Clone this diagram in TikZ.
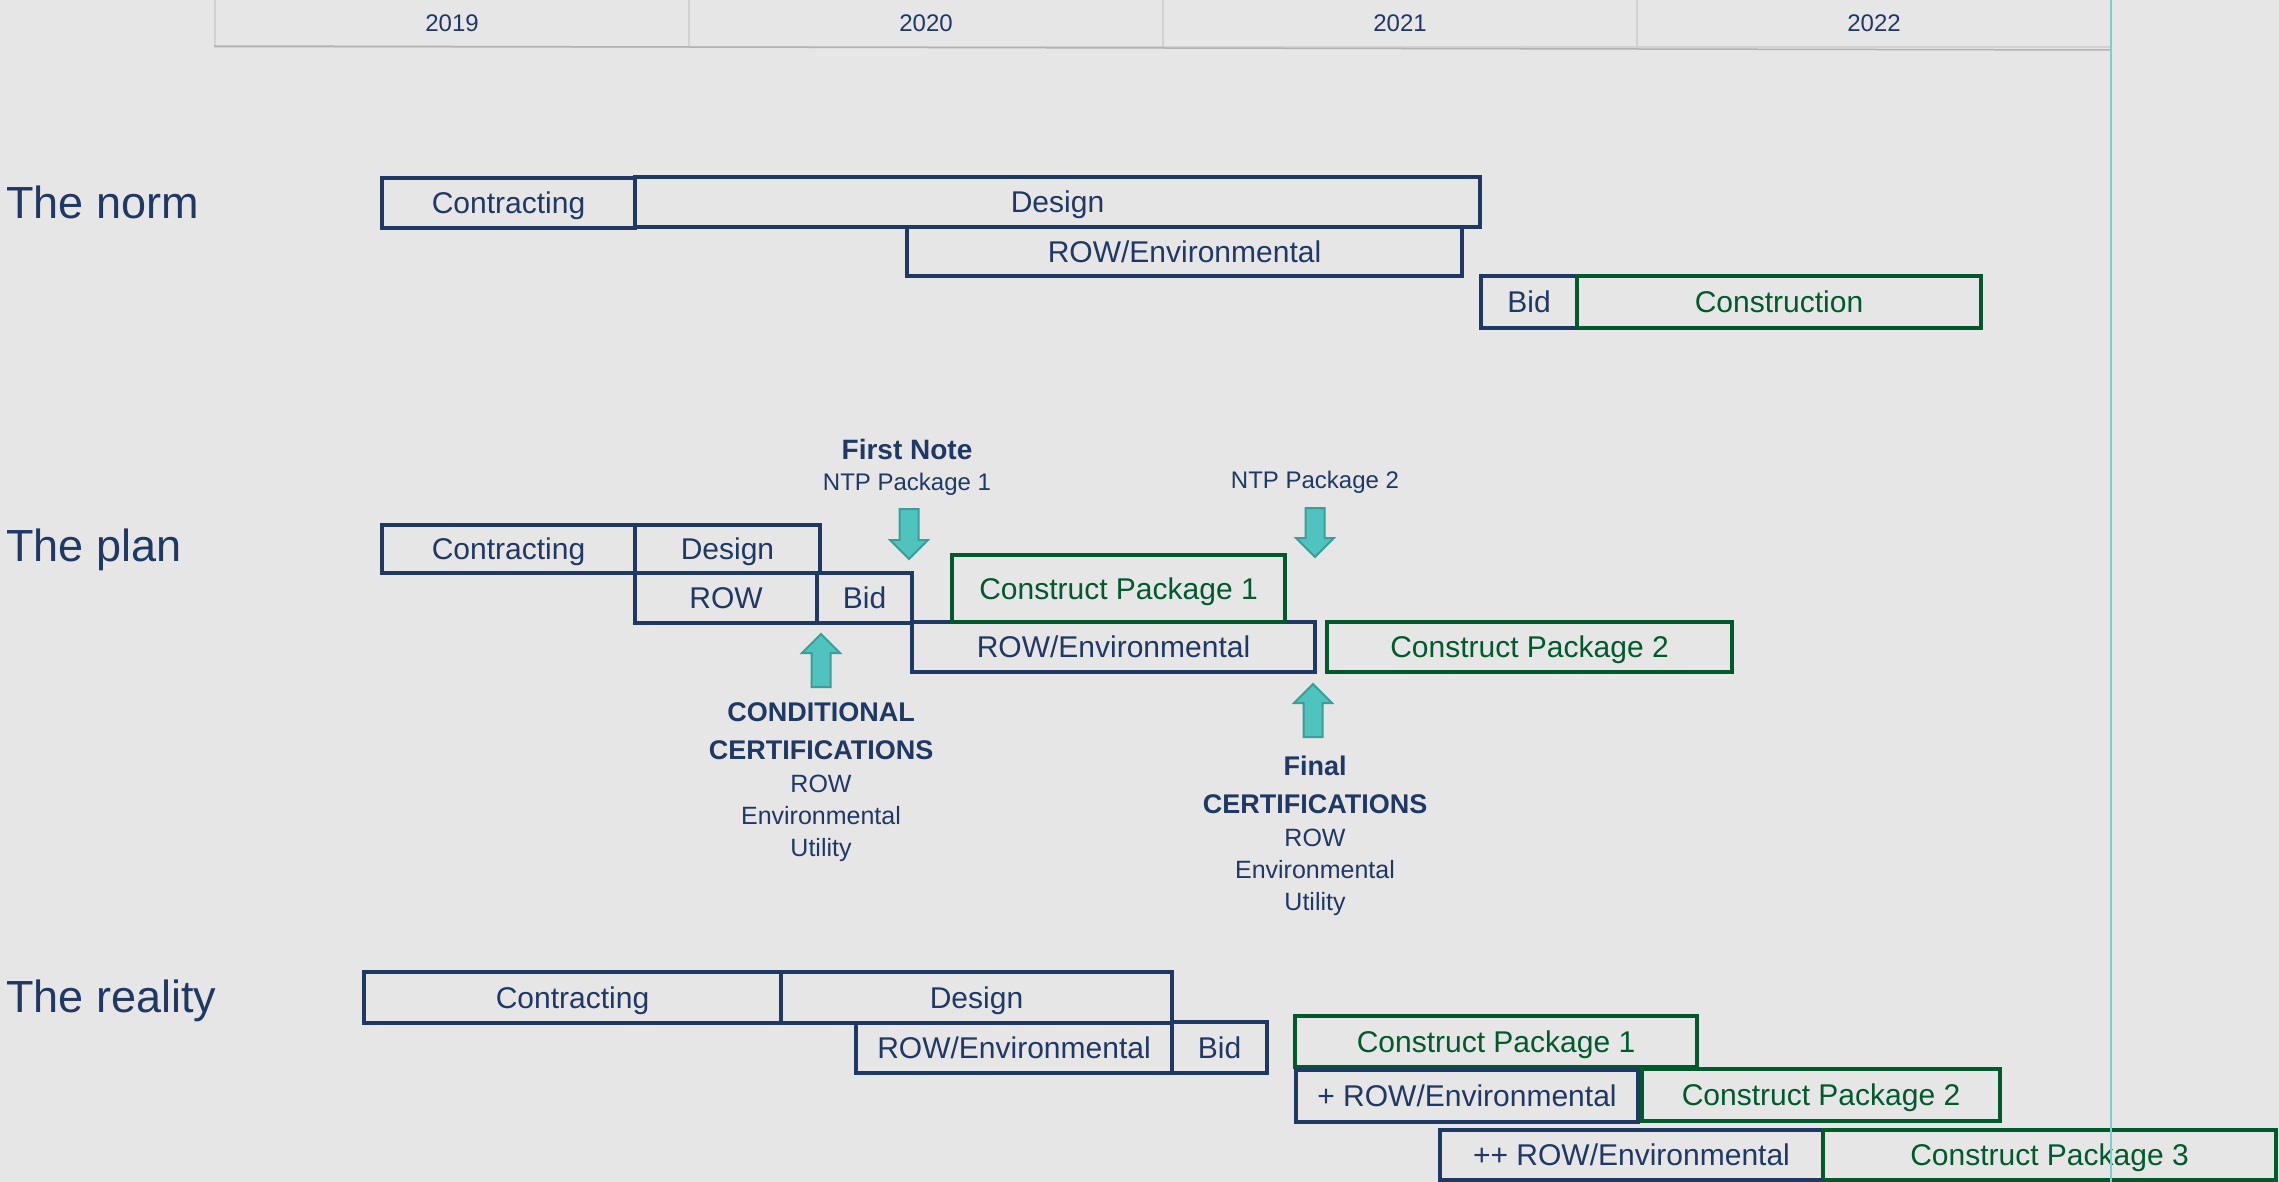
\documentclass[tikz,border=0pt]{standalone}
\usepackage{fontspec}
\setmainfont{Liberation Sans}
\usetikzlibrary{positioning}
\definecolor{PlanNavy}{HTML}{1F3864}
\definecolor{PlanGreen}{HTML}{005A2B}
\definecolor{PlanBack}{HTML}{E6E6E6}
\definecolor{GridGray}{HTML}{D2D2D2}
\definecolor{ArrowTeal}{HTML}{4FC3BE}
\definecolor{ArrowEdge}{HTML}{3A9E9B}
\definecolor{LineTeal}{HTML}{7ACFCB}
% name, style, x1, y1, x2, y2, label (pixel units)
\newcommand{\phase}[7]{\node[#2,minimum width={(#5-#3)*0.5pt},minimum height={(#6-#4)*0.5pt}] (#1) at ({(#3+#5)/2},{(#4+#6)/2}) {#7};}

\begin{document}
\begin{tikzpicture}[x=0.5pt,y=-0.5pt,line join=miter,
  phasebox/.style={draw=PlanNavy,line width=1.75pt,text=PlanNavy,font=\fontsize{15}{18}\selectfont,text height=10.7pt,text depth=0pt,inner sep=0pt,outer sep=0pt},
  buildbox/.style={phasebox,draw=PlanGreen,text=PlanGreen},
  rowtitle/.style={anchor=west,text=PlanNavy,font=\fontsize{22.5}{27}\selectfont,text height=16.1pt,text depth=0pt,inner sep=0pt},
  yearcell/.style={draw=GridGray,line width=1pt,text=PlanNavy,font=\fontsize{12}{14}\selectfont,minimum width=237pt,minimum height=24pt,inner sep=0pt},
  note/.style={text=PlanNavy,font=\fontsize{12.5}{16}\selectfont,inner sep=0pt,align=center},
  heading/.style={note,font=\bfseries\fontsize{13.5}{19}\selectfont},
  marker/.style={fill=ArrowTeal,draw=ArrowEdge,line width=1pt}]
  \useasboundingbox (0,0) rectangle (2279,1182);
  \fill[PlanBack] (0,0) rectangle (2279,1182);
  % year header
  \foreach \yr [count=\i from 0] in {2019,2020,2021,2022}
    \node[yearcell] (y\yr) at ({215+474*\i+237},23) {\yr};
  \draw[GridGray!85!black,line width=0.75pt] (y2019.south west)++(0,-2) -- ([yshift=-1pt]y2022.south east);
  % row titles
  \node[rowtitle] (norm) at (6,202) {The norm};
  \node[rowtitle] (plan) at (6,545) {The plan};
  \node[rowtitle] (reality) at (6,996) {The reality};
  % the norm
  \phase{nCon}{phasebox}{382}{178}{635}{228}{Contracting}
  \phase{nDes}{phasebox}{635}{177}{1480}{227}{Design}
  \phase{nRow}{phasebox}{907}{227}{1462}{276}{ROW/Environmental}
  \phase{nBid}{phasebox}{1481}{276}{1577}{328}{Bid}
  \phase{nBuild}{buildbox}{1577}{276}{1981}{328}{Construction}
  % the plan
  \phase{pCon}{phasebox}{382}{525}{635}{573}{Contracting}
  \phase{pDes}{phasebox}{635}{525}{820}{573}{Design}
  \phase{pRow}{phasebox}{635}{573}{817}{623}{ROW}
  \phase{pBid}{phasebox}{817}{573}{912}{623}{Bid}
  \phase{pEnv}{phasebox}{912}{622}{1315}{672}{ROW/Environmental}
  \phase{pBuildA}{buildbox}{952}{555}{1285}{622}{Construct Package 1}
  \phase{pBuildB}{buildbox}{1327}{622}{1732}{672}{Construct Package 2}
  \node[heading,font=\bfseries\fontsize{14}{17}\selectfont] (firstNote) at (907,449) {First Note};
  \node[note,font=\fontsize{12}{15}\selectfont] (ntpA) at (907,484) {NTP Package 1};
  \node[note,font=\fontsize{12}{15}\selectfont] (ntpB) at (1315,482) {NTP Package 2};
  \node[heading] (condHead) at (821,731) {CONDITIONAL\\CERTIFICATIONS};
  \node[note] (condList) at (821,818) {ROW\\Environmental\\Utility};
  \node[heading] (finalHead) at (1315,785) {Final\\CERTIFICATIONS};
  \node[note] (finalList) at (1315,872) {ROW\\Environmental\\Utility};
  \foreach \x/\a/\b/\h in {909/509/559/-19,1315/508/557/-19,821/687/634/19,1313/737/684/19}
    \filldraw[marker] ({\x-9.5},\a) -- ({\x+9.5},\a) -- ({\x+9.5},{\b+\h}) -- ({\x+19},{\b+\h})
      -- (\x,\b) -- ({\x-19},{\b+\h}) -- ({\x-9.5},{\b+\h}) -- cycle;
  % the reality
  \phase{rCon}{phasebox}{364}{972}{781}{1023}{Contracting}
  \phase{rDes}{phasebox}{781}{972}{1172}{1023}{Design}
  \phase{rRow}{phasebox}{856}{1023}{1172}{1073}{ROW/Environmental}
  \phase{rBid}{phasebox}{1172}{1022}{1267}{1073}{Bid}
  \phase{rBuildA}{buildbox}{1295}{1016}{1697}{1067}{Construct Package 1}
  \phase{rEnvB}{phasebox}{1296}{1070}{1638}{1122}{+ ROW/Environmental}
  \phase{rBuildB}{buildbox}{1642}{1069}{2000}{1121}{Construct Package 2}
  \phase{rEnvC}{phasebox}{1440}{1130}{1823}{1180}{++ ROW/Environmental}
  \phase{rBuildC}{buildbox}{1823}{1130}{2276}{1180}{Construct Package 3}
  \draw[LineTeal,line width=0.75pt] (2111,0) -- (2111,1182);
\end{tikzpicture}
\end{document}
